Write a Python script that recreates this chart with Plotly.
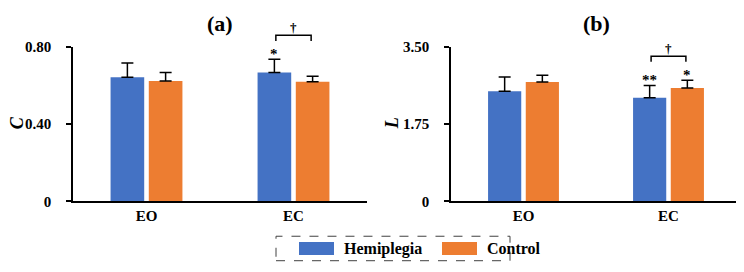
import plotly.graph_objects as go

categories = ["EO", "EC"]
groups = ["Hemiplegia", "Control"]
colors = ["#4472C4", "#ED7D31"]

# Panel (a): C
c_hemi = [0.644, 0.668]
c_hemi_err = [0.073, 0.069]
c_ctrl = [0.624, 0.620]
c_ctrl_err = [0.044, 0.029]
c_ticks = [0, 0.40, 0.80]
c_ticktext = ["0", "0.40", "0.80"]

# Panel (b): L
l_hemi = [2.50, 2.35]
l_hemi_err = [0.32, 0.28]
l_ctrl = [2.71, 2.57]
l_ctrl_err = [0.15, 0.18]
l_ticks = [0, 1.75, 3.50]
l_ticktext = ["0", "1.75", "3.50"]

# significance marks: (category index, group index, text)
c_stars = [(1, 0, "*")]
l_stars = [(1, 0, "**"), (1, 1, "*")]

FONT = "Liberation Serif, Times New Roman, serif"
W, H = 744, 272
PAGE_OFF = 8  # page body margin offset


def PX(sx):
    return (sx - PAGE_OFF) / W


def PY(sy):
    return 1 - (sy - PAGE_OFF) / H


ydom = [PY(205), PY(41)]
xdom_a = [PX(73), PX(367)]
xdom_b = [PX(451), PX(741)]
BARGAP = 0.48
GROUPGAP = 0.12
OFF = (1 - BARGAP) / 4

fig = go.Figure()

panels = [
    ("x", "y", xdom_a, c_hemi, c_hemi_err, c_ctrl, c_ctrl_err, 0.8, c_ticks, c_ticktext, c_stars, "C", 17, "(a)"),
    ("x2", "y2", xdom_b, l_hemi, l_hemi_err, l_ctrl, l_ctrl_err, 3.5, l_ticks, l_ticktext, l_stars, "L", 392, "(b)"),
]

shapes = []
annotations = []
for i, (xa, ya, xdom, h, he, c, ce, ymax, tv, tt, stars, ytitle, ytx, ptitle) in enumerate(panels):
    for vals, errs, name, col in [(h, he, groups[0], colors[0]), (c, ce, groups[1], colors[1])]:
        fig.add_trace(go.Bar(
            x=categories, y=vals, name=name, marker=dict(color=col, line=dict(width=0)),
            error_y=dict(type="data", array=errs, arrayminus=[0] * len(errs), symmetric=False,
                         color="black", thickness=1.5, width=6),
            xaxis=xa, yaxis=ya, showlegend=False,
        ))
    sfx = "" if i == 0 else "2"
    fig.update_layout(**{
        "xaxis" + sfx: dict(domain=xdom, range=[-0.5, 1.5], showline=True, linecolor="black", linewidth=1.5,
                            ticks="", showgrid=False, zeroline=False, anchor=ya,
                            tickfont=dict(family=FONT, size=15, color="black", weight="bold")),
        "yaxis" + sfx: dict(domain=ydom, range=[0, ymax], tickvals=tv, ticktext=tt, showline=True,
                            linecolor="black", linewidth=1.5, ticks="outside", ticklen=5, tickwidth=1.5,
                            tickcolor="black", showgrid=False, zeroline=False, anchor=xa,
                            ticklabelstandoff=12,
                            tickfont=dict(family=FONT, size=15, color="black", weight="bold")),
    })

    def xp(pos, xdom=xdom):
        return xdom[0] + (pos + 0.5) / 2 * (xdom[1] - xdom[0])

    def yp(v, ymax=ymax):
        return ydom[0] + v / ymax * (ydom[1] - ydom[0])

    tops = [[h[k] + he[k], c[k] + ce[k]] for k in range(2)]
    for (k, g, txt) in stars:
        annotations.append(dict(x=k + (-OFF if g == 0 else OFF), y=tops[k][g], xref=xa, yref=ya,
                                text=txt, showarrow=False, xanchor="center", yanchor="bottom", yshift=-5,
                                font=dict(family=FONT, size=15, color="black", weight="bold")))
    # bracket over EC
    k = 1
    top = max(tops[k]) + 0.155 * ymax
    bx0, bx1 = xp(k - OFF + 0.01), xp(k + OFF - 0.01)
    by = yp(top)
    bh = 6 / H
    shapes.append(dict(type="path", xref="paper", yref="paper",
                       path=f"M {bx0},{by - bh} L {bx0},{by} L {bx1},{by} L {bx1},{by - bh}",
                       line=dict(color="black", width=1.5)))
    annotations.append(dict(x=(bx0 + bx1) / 2, y=by, xref="paper", yref="paper", text="†",
                            showarrow=False, xanchor="center", yanchor="bottom", yshift=-2,
                            font=dict(family=FONT, size=13, color="black", weight="bold")))
    # y title
    annotations.append(dict(x=PX(ytx), y=PY(122), xref="paper", yref="paper", text=ytitle,
                            textangle=-90, showarrow=False, xanchor="center", yanchor="middle",
                            font=dict(family=FONT, size=18, color="black", weight="bold", style="italic")))
    # panel title
    annotations.append(dict(x=(xdom[0] + xdom[1]) / 2, y=PY(16), xref="paper", yref="paper",
                            text=ptitle, showarrow=False, xanchor="center", yanchor="middle",
                            font=dict(family=FONT, size=22, color="black", weight="bold")))

# custom legend with dashed frame
shapes.append(dict(type="rect", xref="paper", yref="paper", x0=PX(276), x1=PX(510),
                   y0=PY(268), y1=PY(242),
                   line=dict(color="#404040", width=1, dash="dash"), fillcolor="rgba(0,0,0,0)"))
leg_x = [(299, 342), (442, 485)]
for (sx, tx), name, col in zip(leg_x, groups, colors):
    shapes.append(dict(type="rect", xref="paper", yref="paper", x0=PX(sx), x1=PX(sx + 35),
                       y0=PY(262), y1=PY(248), line=dict(width=0), fillcolor=col))
    annotations.append(dict(x=PX(tx), y=PY(255.5), xref="paper", yref="paper", text=name,
                            xanchor="left", yanchor="middle", showarrow=False,
                            font=dict(family=FONT, size=16, color="black", weight="bold")))

fig.update_layout(
    width=W, height=H, margin=dict(l=0, r=0, t=0, b=0),
    paper_bgcolor="white", plot_bgcolor="white",
    barmode="group", bargap=BARGAP, bargroupgap=GROUPGAP,
    shapes=shapes, annotations=annotations, showlegend=False,
)

fig.write_html("out.html")
